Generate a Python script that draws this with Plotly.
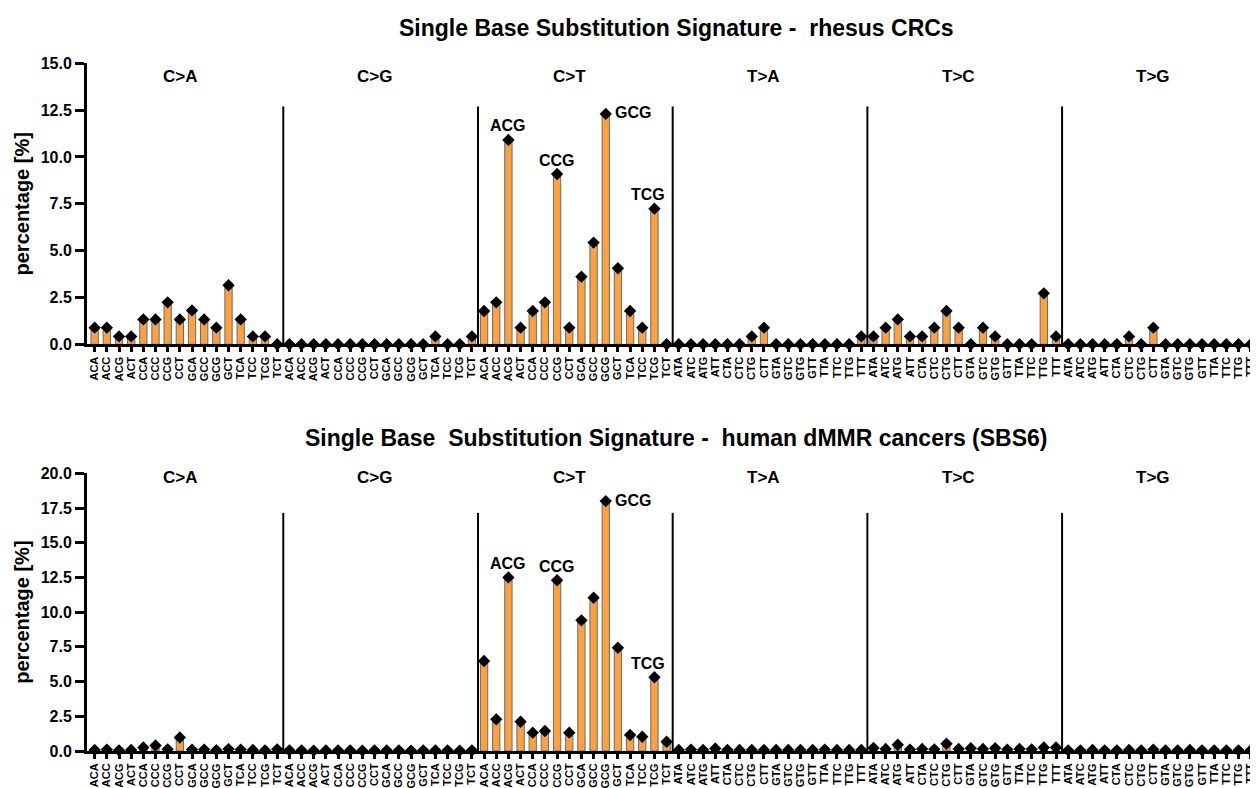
import plotly.graph_objects as go

# ---------------- data ----------------
mutation_types = ["C>A", "C>G", "C>T", "T>A", "T>C", "T>G"]
c_contexts = ["ACA", "ACC", "ACG", "ACT", "CCA", "CCC", "CCG", "CCT",
              "GCA", "GCC", "GCG", "GCT", "TCA", "TCC", "TCG", "TCT"]
t_contexts = ["ATA", "ATC", "ATG", "ATT", "CTA", "CTC", "CTG", "CTT",
              "GTA", "GTC", "GTG", "GTT", "TTA", "TTC", "TTG", "TTT"]

# rhesus CRCs (percentage)
rh_CA = [0.89, 0.89, 0.42, 0.42, 1.33, 1.33, 2.24, 1.33, 1.81, 1.33, 0.89, 3.15, 1.33, 0.42, 0.42, 0.0]
rh_CG = [0, 0, 0, 0, 0, 0, 0, 0, 0, 0, 0, 0, 0.42, 0, 0, 0.42]
rh_CT = [1.78, 2.24, 10.91, 0.89, 1.78, 2.24, 9.09, 0.89, 3.61, 5.43, 12.3, 4.06, 1.78, 0.89, 7.24, 0.0]
rh_TA = [0, 0, 0, 0, 0, 0, 0.42, 0.89, 0, 0, 0, 0, 0, 0, 0, 0.42]
rh_TC = [0.42, 0.89, 1.33, 0.42, 0.42, 0.89, 1.78, 0.89, 0, 0.89, 0.42, 0, 0, 0, 2.72, 0.42]
rh_TG = [0, 0, 0, 0, 0, 0.42, 0, 0.89, 0, 0, 0, 0, 0, 0, 0, 0]

# human dMMR cancers, SBS6 (percentage)
hu_CA = [0.08, 0.10, 0.05, 0.08, 0.25, 0.40, 0.12, 0.97, 0.10, 0.10, 0.06, 0.14, 0.10, 0.08, 0.05, 0.12]
hu_CG = [0.05, 0.05, 0.03, 0.05, 0.05, 0.05, 0.03, 0.05, 0.05, 0.05, 0.03, 0.05, 0.05, 0.05, 0.03, 0.05]
hu_CT = [6.48, 2.28, 12.5, 2.11, 1.32, 1.44, 12.3, 1.32, 9.41, 11.04, 18.0, 7.44, 1.15, 1.03, 5.31, 0.67]
hu_TA = [0.08, 0.10, 0.08, 0.18, 0.08, 0.08, 0.08, 0.08, 0.08, 0.08, 0.08, 0.08, 0.10, 0.08, 0.08, 0.08]
hu_TC = [0.22, 0.15, 0.45, 0.10, 0.15, 0.12, 0.52, 0.15, 0.20, 0.15, 0.20, 0.10, 0.15, 0.12, 0.25, 0.25]
hu_TG = [0.05, 0.05, 0.08, 0.05, 0.05, 0.08, 0.05, 0.10, 0.05, 0.05, 0.08, 0.05, 0.05, 0.05, 0.05, 0.05]

highlight = ["ACG", "CCG", "GCG", "TCG"]

titles = ["Single Base Substitution Signature -  rhesus CRCs",
          "Single Base  Substitution Signature -  human dMMR cancers (SBS6)"]
y_title = "percentage [%]"

# ---------------- build ----------------
tick_text = c_contexts * 3 + t_contexts * 3
idx = list(range(len(tick_text)))
rhesus = rh_CA + rh_CG + rh_CT + rh_TA + rh_TC + rh_TG
human = hu_CA + hu_CG + hu_CT + hu_TA + hu_TC + hu_TG

# page body has an 8px margin -> figure is drawn at (8, 8) in the window
W, H = 1250, 780
OFF = 8
BAR = "#FBA13F"
FONT = "Liberation Sans, Arial, sans-serif"


def py(screen_y):
    return 1 - (screen_y - OFF) / H


fig = go.Figure()

panels = [
    dict(vals=rhesus, xa="x", ya="y", ymax=15.0, dtick=2.5, sep_top=12.7, grp_y=14.3,
         dom=[py(344.3), py(63.3)], title_y=py(28)),
    dict(vals=human, xa="x2", ya="y2", ymax=20.0, dtick=2.5, sep_top=17.15, grp_y=19.7,
         dom=[py(751.0), py(473.3)], title_y=py(438)),
]

annotations = []
shapes = []
for p_i, p in enumerate(panels):
    fig.add_trace(go.Bar(x=idx, y=p["vals"], xaxis=p["xa"], yaxis=p["ya"],
                         width=0.6, marker=dict(color=BAR, line=dict(color="#6a6a6a", width=1)),
                         showlegend=False))
    fig.add_trace(go.Scatter(x=idx, y=p["vals"], xaxis=p["xa"], yaxis=p["ya"], mode="markers",
                             marker=dict(symbol="diamond", size=9.5, color="black"),
                             cliponaxis=False, showlegend=False))
    for g in range(1, 6):
        shapes.append(dict(type="line", xref=p["xa"], yref=p["ya"], x0=g * 16 - 0.5, x1=g * 16 - 0.5,
                           y0=0, y1=p["sep_top"], line=dict(color="black", width=2)))
    for g, name in enumerate(mutation_types):
        annotations.append(dict(x=g * 16 + 7, y=p["grp_y"], xref=p["xa"], yref=p["ya"], text=name,
                                showarrow=False, font=dict(family=FONT, size=17, color="black", weight="bold")))
    for lab in highlight:
        i = 32 + c_contexts.index(lab)
        v = p["vals"][i]
        f = dict(family=FONT, size=16, color="black", weight="bold")
        if lab == "GCG":
            annotations.append(dict(x=i, y=v, xref=p["xa"], yref=p["ya"], text=lab, showarrow=False,
                                    xanchor="left", xshift=7, yshift=1, font=f))
        elif lab == "TCG":
            annotations.append(dict(x=i, y=v, xref=p["xa"], yref=p["ya"], text=lab, showarrow=False,
                                    xshift=-6, yshift=14, font=f))
        else:
            annotations.append(dict(x=i, y=v, xref=p["xa"], yref=p["ya"], text=lab, showarrow=False,
                                    yshift=14, font=f))
    annotations.append(dict(x=0.503, y=p["title_y"], xref="paper", yref="paper", text=titles[p_i],
                            xanchor="center", yanchor="middle", showarrow=False,
                            font=dict(family=FONT, size=23, color="black", weight="bold")))

axis_x = dict(range=[-0.63, 95.6], tickmode="array", tickvals=idx, ticktext=tick_text,
              tickangle=-90, ticks="outside", ticklen=5, tickwidth=2.5, tickcolor="black",
              showline=True, linecolor="black", linewidth=3, showgrid=False, zeroline=False,
              tickfont=dict(family=FONT, size=11, color="black", weight="bold"), automargin=False)


def yaxis(p, anchor):
    return dict(range=[0, p["ymax"]], dtick=p["dtick"], tickformat=".1f", domain=p["dom"], anchor=anchor,
                ticks="outside", ticklen=9, tickwidth=3, tickcolor="black",
                showline=True, linecolor="black", linewidth=3, showgrid=False, zeroline=False,
                tickfont=dict(family=FONT, size=16, color="black", weight="bold"),
                title=dict(text=y_title, standoff=6,
                           font=dict(family=FONT, size=20, color="black", weight="bold")),
                automargin=False)


fig.update_layout(
    width=W, height=H,
    margin=dict(l=79, r=0, t=0, b=0),
    paper_bgcolor="white", plot_bgcolor="white",
    xaxis=dict(axis_x, anchor="y"),
    xaxis2=dict(axis_x, anchor="y2"),
    yaxis=yaxis(panels[0], "x"),
    yaxis2=yaxis(panels[1], "x2"),
    annotations=annotations,
    shapes=shapes,
)

fig.write_html("out.html")
